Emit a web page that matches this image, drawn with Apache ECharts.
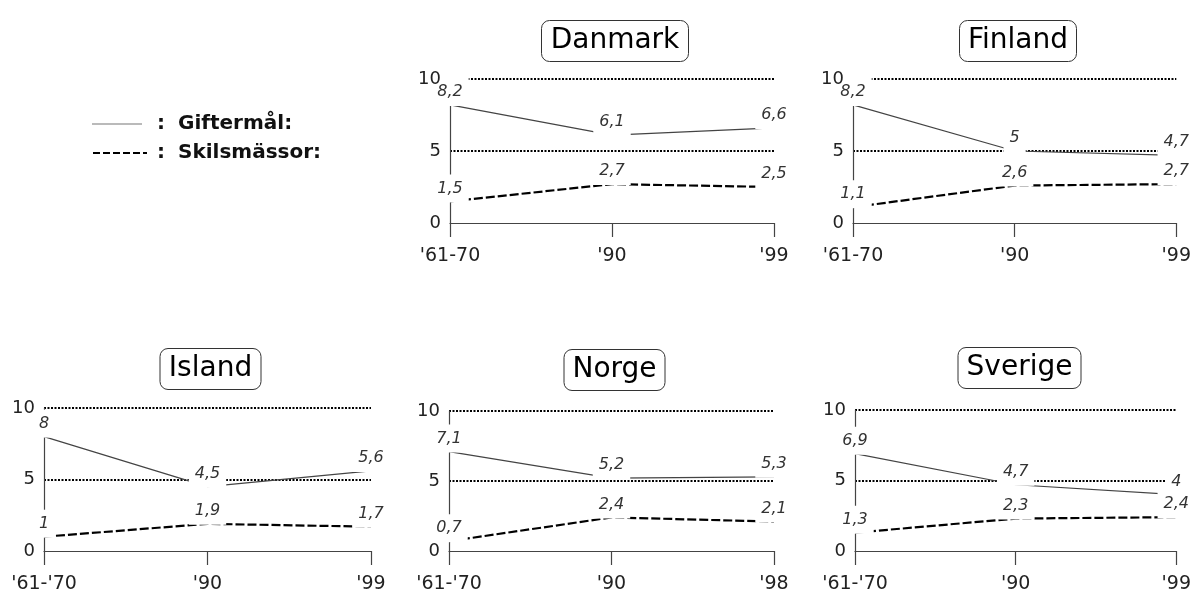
<!DOCTYPE html>
<html>
<head>
<meta charset="utf-8">
<script src="https://cdn.jsdelivr.net/npm/echarts@6/dist/echarts.min.js"></script>
<style>
html,body{margin:0;padding:0;background:#fff;}
#chart{width:1194px;height:594px;}
</style>
</head>
<body>
<div id="chart"></div>
<script>
// ---- data ----
const countries = ['Danmark', 'Finland', 'Island', 'Norge', 'Sverige'];

const ticksDanmark = ["'61-70", "'90", "'99"];
const ticksFinland = ["'61-70", "'90", "'99"];
const ticksIsland  = ["'61-'70", "'90", "'99"];
const ticksNorge   = ["'61-'70", "'90", "'98"];
const ticksSverige = ["'61-'70", "'90", "'99"];

const giftDanmark = [8.2, 6.1, 6.6];
const giftFinland = [8.2, 5.0, 4.7];
const giftIsland  = [8.0, 4.5, 5.6];
const giftNorge   = [7.1, 5.2, 5.3];
const giftSverige = [6.9, 4.7, 4.0];

const skilsDanmark = [1.5, 2.7, 2.5];
const skilsFinland = [1.1, 2.6, 2.7];
const skilsIsland  = [1.0, 1.9, 1.7];
const skilsNorge   = [0.7, 2.4, 2.1];
const skilsSverige = [1.3, 2.3, 2.4];

const yTicks = [0, 5, 10];
const legendGift = 'Giftermål:';
const legendSkils = 'Skilsmässor:';

// ---- layout ----
const tickSets = [ticksDanmark, ticksFinland, ticksIsland, ticksNorge, ticksSverige];
const giftSets = [giftDanmark, giftFinland, giftIsland, giftNorge, giftSverige];
const skilsSets = [skilsDanmark, skilsFinland, skilsIsland, skilsNorge, skilsSverige];

const grids = [
  {left: 450, top: 79, width: 324, height: 144},
  {left: 853, top: 79, width: 324, height: 144},
  {left: 44,  top: 408, width: 327, height: 144},
  {left: 449, top: 411, width: 325, height: 144},
  {left: 855, top: 410, width: 323, height: 143}
];
const titleTops = [20, 20, 348, 349, 347];

const FONT = '"DejaVu Sans", "Open Sans", sans-serif';
const fmt = v => String(v).replace('.', ',');

const option = {
  animation: false,
  backgroundColor: '#fff',
  textStyle: {fontFamily: FONT},
  grid: grids.map(g => Object.assign({containLabel: false}, g)),
  title: countries.map((c, i) => ({
    text: c,
    left: grids[i].left + grids[i].width / 2 - 6,
    top: titleTops[i],
    textAlign: 'center',
    borderColor: '#333',
    borderWidth: 1,
    borderRadius: 8,
    padding: [3, 9, 3, 9],
    textStyle: {fontFamily: FONT, fontSize: 28, fontWeight: 'normal', color: '#000', lineHeight: 36}
  })),
  xAxis: countries.map((c, i) => ({
    type: 'category',
    gridIndex: i,
    data: tickSets[i],
    boundaryGap: false,
    axisLine: {show: true, lineStyle: {color: '#444', width: 1.2}},
    axisTick: {show: true, length: 14, lineStyle: {color: '#444', width: 1.2}},
    axisLabel: {fontFamily: FONT, fontSize: 19, color: '#222', margin: 24, interval: 0},
    splitLine: {show: false}
  })),
  yAxis: [].concat(
    countries.map((c, i) => ({
      type: 'value',
      gridIndex: i,
      position: 'left',
      min: yTicks[0], max: yTicks[2], interval: 5,
      axisLine: {show: true, lineStyle: {color: '#444', width: 1.2}},
      axisTick: {show: false},
      axisLabel: {show: false},
      splitLine: {show: true, lineStyle: {color: ['rgba(0,0,0,0)', '#000', '#000'], width: 2, type: [2, 1.5]}}
    })),
    countries.map((c, i) => ({
      type: 'value',
      gridIndex: i,
      position: 'left',
      z: 10,
      min: yTicks[0], max: yTicks[2], interval: 5,
      axisLine: {show: false},
      axisTick: {show: false},
      splitLine: {show: false},
      axisLabel: {show: true, fontFamily: FONT, fontSize: 18, color: '#222', margin: 9}
    }))
  ),
  series: [],
  graphic: [
    {type: 'line', shape: {x1: 92, y1: 124, x2: 142, y2: 124}, style: {stroke: '#777', lineWidth: 1.2}},
    {type: 'text', x: 157, y: 124, style: {text: ':', font: 'bold 20px ' + FONT, fill: '#111', verticalAlign: 'middle'}},
    {type: 'text', x: 178, y: 124, style: {text: legendGift, font: 'bold 20px ' + FONT, fill: '#111', verticalAlign: 'middle'}},
    {type: 'line', shape: {x1: 93, y1: 153, x2: 147, y2: 153}, style: {stroke: '#000', lineWidth: 2, lineDash: [7, 3]}},
    {type: 'text', x: 157, y: 153, style: {text: ':', font: 'bold 20px ' + FONT, fill: '#111', verticalAlign: 'middle'}},
    {type: 'text', x: 178, y: 153, style: {text: legendSkils, font: 'bold 20px ' + FONT, fill: '#111', verticalAlign: 'middle'}}
  ]
};

const labelStyle = {
  show: true,
  position: 'inside',
  offset: [0, -13],
  formatter: p => fmt(p.value),
  fontFamily: FONT,
  fontStyle: 'italic',
  fontSize: 16,
  lineHeight: 20,
  color: '#333',
  opacity: 1,
  textBorderWidth: 0,
  backgroundColor: '#ffffff',
  padding: [4, 6, 4, 6]
};

countries.forEach((c, i) => {
  option.series.push({
    name: 'Giftermål', type: 'line', xAxisIndex: i, yAxisIndex: i, z: 2, silent: true,
    data: giftSets[i], showSymbol: false, symbol: 'none',
    lineStyle: {color: '#444', width: 1.2}
  });
  option.series.push({
    name: 'Skilsmässor', type: 'line', xAxisIndex: i, yAxisIndex: i, z: 2, silent: true,
    data: skilsSets[i], showSymbol: false, symbol: 'none',
    lineStyle: {color: '#000', width: 2.2, type: [9, 3]}
  });
  [giftSets[i], skilsSets[i]].forEach(vals => {
    option.series.push({
      type: 'scatter', xAxisIndex: i, yAxisIndex: i, z: 5, silent: true,
      data: vals, symbolSize: 0, itemStyle: {color: '#ffffff', opacity: 1},
      emphasis: {disabled: true},
      label: labelStyle
    });
  });
});

const chart = echarts.init(document.getElementById('chart'), null, {renderer: 'canvas'});
chart.setOption(option);
</script>
</body>
</html>
